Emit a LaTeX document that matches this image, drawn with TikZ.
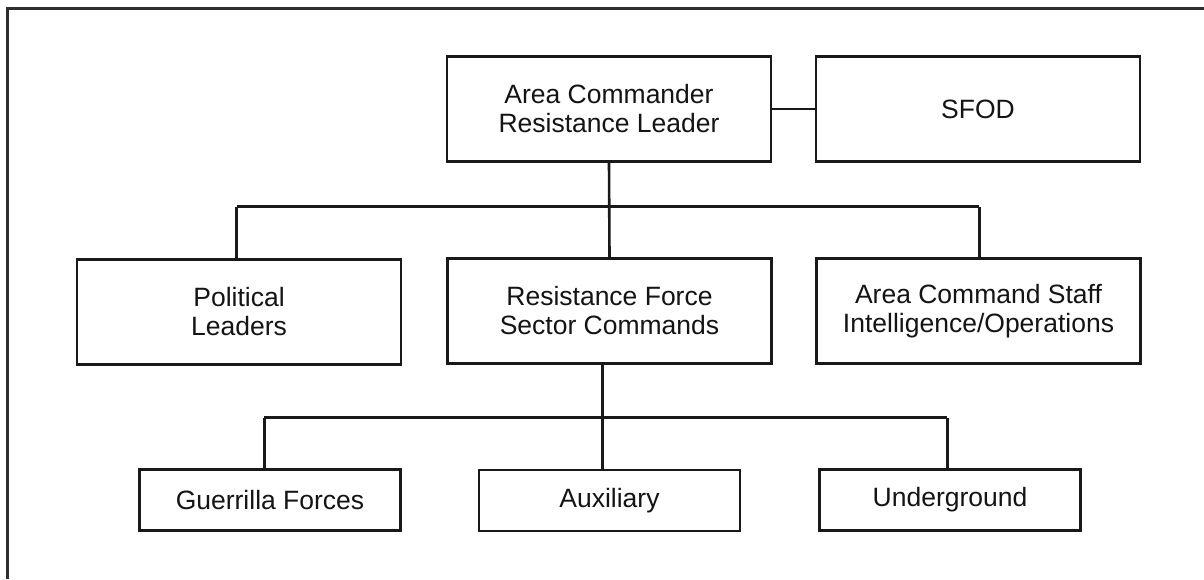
\documentclass[tikz,border=0pt]{standalone}
\usepackage{fontspec}
\setmainfont{Liberation Sans}
\begin{document}
\begin{tikzpicture}[x=1pt,y=-1pt,
  line join=miter,
  orgbox/.style={draw=black!90, line width=2.6pt, rectangle, inner sep=0pt,
    align=center, text=black!92,
    font=\fontsize{26.5}{29}\selectfont},
  bigbox/.style={orgbox, minimum width=324pt, minimum height=105pt},
  smallbox/.style={orgbox, minimum width=261pt, minimum height=61pt},
  link/.style={draw=black!90, line width=2.6pt}]
\useasboundingbox (0,0) rectangle (1204,579);
\fill[white] (0,0) rectangle (1204,579);
% page frame
\draw[black!82, line width=3pt] (7,579) -- (7,8) -- (1204,8);

% top level
\node[bigbox] (ac)    at (609,109)   {Area Commander\\Resistance Leader};
\node[bigbox] (sfod)  at (978,109)   {SFOD};
% second level
\node[bigbox] (pol)   at (239,312)   {Political\\Leaders};
\node[bigbox] (res)   at (609.5,311) {Resistance Force\\Sector Commands};
\node[bigbox] (staff) at (978.5,311) {Area Command Staff\\Intelligence/Operations};
% third level
\node[smallbox] (gue) at (270,500)   {Guerrilla Forces};
\node[smallbox] (aux) at (609.5,500.5) {Auxiliary};
\node[smallbox] (und) at (950,500)   {Underground};

% bus coordinates
\coordinate (b1) at (236.7,206.7);
\coordinate (b2) at (979.3,206.7);
\coordinate (c0) at (602.7,417.7);
\coordinate (c1) at (264.3,417.7);
\coordinate (c2) at (947.3,417.7);

% connectors
\draw[link] (ac.east) -- (sfod.west);
\draw[link] (ac.south) -- (res.north);
\draw[link] (b1) -- (b2);
\draw[link] (b1) -- (b1 |- pol.north);
\draw[link] (b2) -- (b2 |- staff.north);
\draw[link] (res.south -| c0) -- (aux.north -| c0);
\draw[link] (c1) -- (c2);
\draw[link] (c1) -- (c1 |- gue.north);
\draw[link] (c2) -- (c2 |- und.north);
\end{tikzpicture}
\end{document}
